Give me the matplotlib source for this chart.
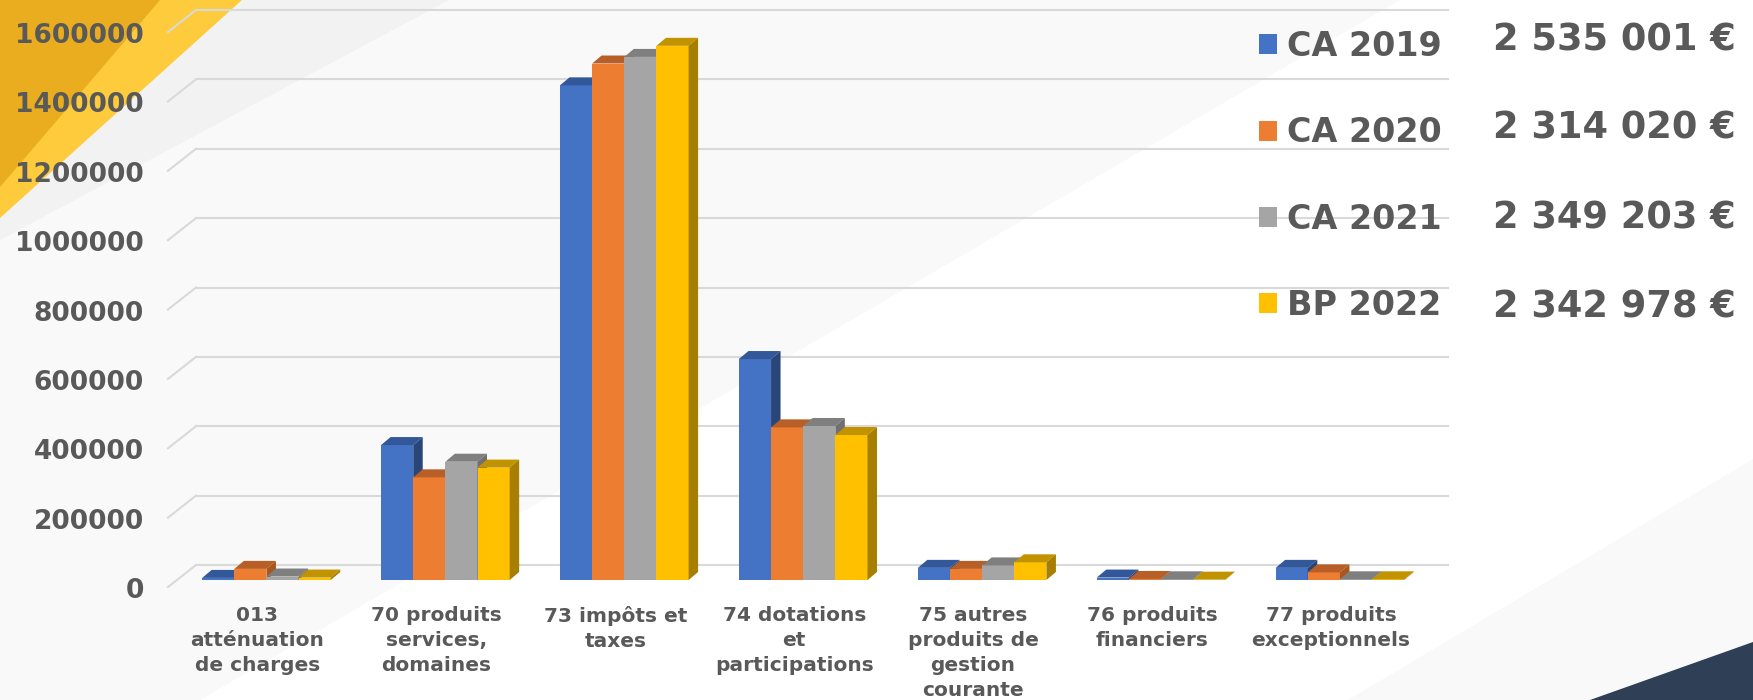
import matplotlib
matplotlib.use("Agg")
import matplotlib.pyplot as plt
import matplotlib.transforms as mtransforms
from matplotlib.patches import Polygon
import numpy as np

# données
categories = ["013\natténuation\nde charges", "70 produits\nservices,\ndomaines",
              "73 impôts et\ntaxes", "74 dotations\net\nparticipations",
              "75 autres\nproduits de\ngestion\ncourante", "76 produits\nfinanciers",
              "77 produits\nexceptionnels"]
series = ["CA 2019", "CA 2020", "CA 2021", "BP 2022"]
ca_2019 = [6000, 389000, 1426000, 637000, 35000, 7000, 35000]
ca_2020 = [32000, 296000, 1489000, 440000, 32000, 3000, 22000]
ca_2021 = [10000, 341000, 1508000, 444000, 42000, 2000, 2000]
bp_2022 = [7000, 324000, 1540000, 418000, 51000, 1000, 2000]
totaux = ["2 535 001 €", "2 314 020 €", "2 349 203 €", "2 342 978 €"]
yticks = [0, 200000, 400000, 600000, 800000, 1000000, 1200000, 1400000, 1600000]

front = ["#4472C4", "#ED7D31", "#A5A5A5", "#FFC000"]
top = ["#33589A", "#B85F27", "#7F7F7F", "#C29300"]
side = ["#2A4679", "#A9561F", "#707070", "#A67F00"]
gris = "#595959"

W, H = 1753, 700
fig = plt.figure(figsize=(W / 100, H / 100), dpi=100)
fig.patch.set_facecolor("#F9F9F9")

# fond décoratif
bg = fig.add_axes([0, 0, 1, 1], zorder=0)
bg.set_xlim(0, W)
bg.set_ylim(H, 0)
bg.axis("off")
bg.add_patch(Polygon([(200, 700), (1400, 0), (1753, 0), (1753, 459), (1348, 700)], color="#FFFFFF", lw=0))
bg.add_patch(Polygon([(240, 0), (449, 0), (0, 240), (0, 215)], color="#F2F2F2", lw=0))
bg.add_patch(Polygon([(0, 0), (242, 0), (0, 218)], color="#FDCB3B", lw=0))
bg.add_patch(Polygon([(0, 0), (160, 0), (0, 187)], color="#E9AD1F", lw=0))
bg.add_patch(Polygon([(1590, 700), (1753, 642), (1753, 700)], color="#2F3F55", lw=0))

# axe principal (plan avant des barres)
x0, x1, yb, yt = 177.0, 1429.4, 580.0, 25.0
ax = fig.add_axes([x0 / W, (H - yb) / H, (x1 - x0) / W, (yb - yt) / H], zorder=1)
ax.patch.set_alpha(0)
ax.set_xlim(-0.5, 6.5)
ax.set_ylim(0, 1600000)
for s in ax.spines.values():
    s.set_visible(False)

ux = 7 / (x1 - x0)            # unités x par pixel
uy = 1600000 / (yb - yt)      # unités y par pixel

# quadrillage 3D : mur du fond + diagonales à gauche
for v in yticks:
    ax.plot([-0.5 + 19 * ux, 6.5 + 19 * ux], [v + 15 * uy] * 2, color="#D9D9D9", lw=1.5, clip_on=False, zorder=1)
    ax.plot([-0.5 - 9 * ux, -0.5 + 19 * ux], [v - 7 * uy, v + 15 * uy], color="#D9D9D9", lw=1.5, clip_on=False, zorder=1)

x = np.arange(len(categories))
w = 0.1797
ddx, ddy = 9.5 * ux, 8 * uy
handles = []
for k, vals in enumerate([ca_2019, ca_2020, ca_2021, bp_2022]):
    xs = x + (k - 1.5) * w
    b = ax.bar(xs, vals, width=w, color=front[k], lw=0, zorder=10 + k)
    handles.append(b)
    for xc, v in zip(xs, vals):
        xl, xr = xc - w / 2, xc + w / 2
        ax.add_patch(Polygon([(xl, v), (xr, v), (xr + ddx, v + ddy), (xl + ddx, v + ddy)],
                             color=top[k], lw=0, zorder=10 + k, clip_on=False))
        ax.add_patch(Polygon([(xr, 0), (xr, v), (xr + ddx, v + ddy), (xr + ddx, ddy)],
                             color=side[k], lw=0, zorder=10 + k, clip_on=False))

# étiquettes des axes
ax.set_yticks(yticks)
ax.set_yticklabels([str(v) for v in yticks], fontsize=19, fontweight="bold", color=gris)
ax.tick_params(axis="y", length=0, pad=24)
off_y = mtransforms.ScaledTranslation(0, -0.08, fig.dpi_scale_trans)
for lab in ax.get_yticklabels():
    lab.set_transform(lab.get_transform() + off_y)

ax.set_xticks(x)
ax.set_xticklabels(categories, fontsize=14.5, fontweight="bold", color=gris, linespacing=1.4)
ax.tick_params(axis="x", length=0, pad=14)
off_x = mtransforms.ScaledTranslation(-0.09, -0.07, fig.dpi_scale_trans)
for lab in ax.get_xticklabels():
    lab.set_transform(lab.get_transform() + off_x)

# légende
fig.legend(handles, series, loc="upper left", bbox_to_anchor=(1259 / W, 1 - 30 / H),
           frameon=False, prop={"weight": "bold", "size": 24}, labelcolor=gris,
           handlelength=0.55, handleheight=0.55, handletextpad=0.3, labelspacing=1.6,
           borderpad=0, borderaxespad=0)

# totaux
for i, t in enumerate(totaux):
    yc = [40, 128, 218, 307][i]
    fig.text(1493 / W, 1 - yc / H, t, fontsize=26.5, fontweight="bold", color=gris, va="center", ha="left")

fig.savefig("out.png", dpi=100)
